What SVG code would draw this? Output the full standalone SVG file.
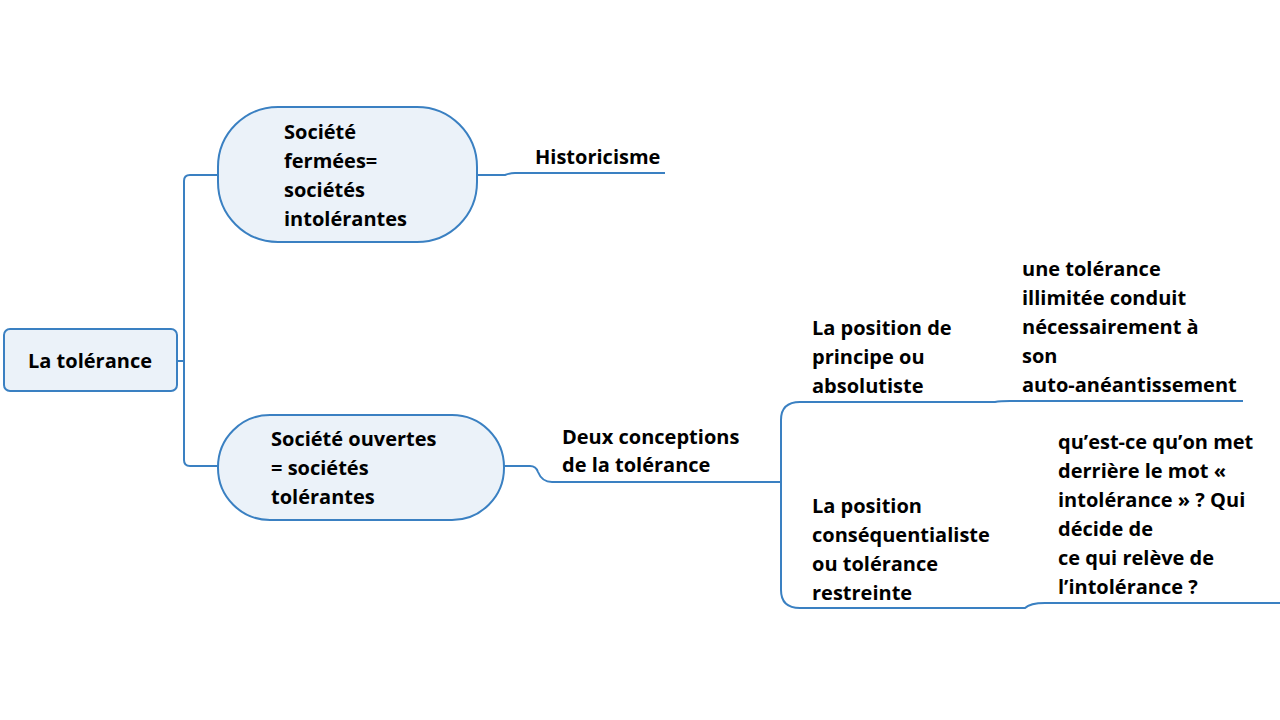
<svg xmlns="http://www.w3.org/2000/svg" width="1280" height="720" viewBox="0 0 1280 720">
<style>
.box{fill:#EBF2F9;stroke:#3A80C2;stroke-width:2}
.ln{fill:none;stroke:#3A80C2;stroke-width:2}
text{font-family:"Open Sans","Liberation Sans",sans-serif;font-weight:bold;font-size:20px;fill:#000}
</style>
<rect width="1280" height="720" fill="#fff"/>
<g id="connectors">
<path class="ln" d="M177,361 H184"/>
<path class="ln" d="M218,175 H190 Q184,175 184,181 V460 Q184,466 190,466 H218"/>
<path class="ln" d="M477,175 H505 Q510,173 515,173 H665"/>
<path class="ln" d="M504,466 H530 Q536,466 538,472 Q542,482 552,482 H781"/>
<path class="ln" d="M800,402 Q781,402 781,420 V590 Q781,608 800,608 H1025 Q1030,603 1045,603 H1280"/>
<path class="ln" d="M800,402 H995 Q1000,401 1010,401 H1243"/>
</g>
<g id="root">
<rect class="box" x="4" y="329" width="173" height="62" rx="6"/>
<text x="90" y="368" text-anchor="middle">La tolérance</text>
</g>
<g id="n-fermees">
<rect class="box" x="218" y="107" width="259" height="135" rx="60"/>
<text x="284" y="139">Société</text>
<text x="284" y="168">fermées=</text>
<text x="284" y="197">sociétés</text>
<text x="284" y="226">intolérantes</text>
</g>
<g id="n-ouvertes">
<rect class="box" x="218" y="415" width="286" height="105" rx="52"/>
<text x="271" y="446">Société ouvertes</text>
<text x="271" y="475">= sociétés</text>
<text x="271" y="504">tolérantes</text>
</g>
<g id="n-historicisme">
<text x="535" y="164">Historicisme</text>
</g>
<g id="n-deux">
<text x="562" y="444">Deux conceptions</text>
<text x="562" y="472">de la tolérance</text>
</g>
<g id="n-principe">
<text x="812" y="335">La position de</text>
<text x="812" y="364">principe ou</text>
<text x="812" y="393">absolutiste</text>
</g>
<g id="n-illimitee">
<text x="1022" y="276">une tolérance</text>
<text x="1022" y="305">illimitée conduit</text>
<text x="1022" y="334">nécessairement à</text>
<text x="1022" y="363">son</text>
<text x="1022" y="392">auto-anéantissement</text>
</g>
<g id="n-consequentialiste">
<text x="812" y="513">La position</text>
<text x="812" y="542">conséquentialiste</text>
<text x="812" y="571">ou tolérance</text>
<text x="812" y="600">restreinte</text>
</g>
<g id="n-question">
<text x="1058" y="449">qu’est-ce qu’on met</text>
<text x="1058" y="478">derrière le mot «</text>
<text x="1058" y="507">intolérance » ? Qui</text>
<text x="1058" y="536">décide de</text>
<text x="1058" y="565">ce qui relève de</text>
<text x="1058" y="594">l’intolérance ?</text>
</g>
</svg>
